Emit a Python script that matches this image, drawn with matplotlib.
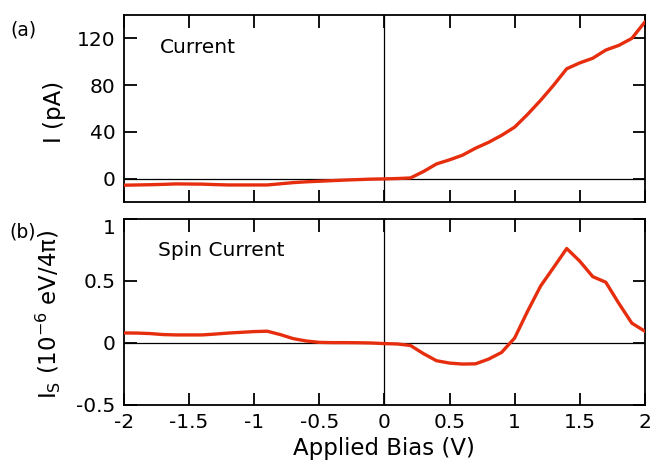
import matplotlib
matplotlib.use("Agg")
import matplotlib.pyplot as plt
import numpy as np

# bias grid (V)
bias = np.round(np.arange(-2.0, 2.01, 0.1), 2)

# charge current I (pA)
current = [-5.7, -5.5, -5.3, -5.0, -4.6, -4.7, -4.8, -5.2, -5.5, -5.5,
           -5.5, -5.5, -4.5, -3.5, -2.8, -2.3, -1.8, -1.3, -0.9, -0.5,
           -0.3, 0.0, 0.5, 6.0, 12.5, 16.0, 20.0, 26.0, 31.0, 37.0,
           44.0, 55.0, 67.0, 80.0, 94.0, 99.0, 103.0, 110.0, 114.0, 120.0,
           134.0]

# spin current I_S (1e-6 eV/4pi)
spin = [0.081, 0.080, 0.076, 0.068, 0.065, 0.065, 0.065, 0.072, 0.080, 0.086,
        0.092, 0.095, 0.068, 0.035, 0.016, 0.005, 0.003, 0.003, 0.002, 0.0,
        -0.005, -0.008, -0.02, -0.086, -0.143, -0.162, -0.17, -0.168, -0.13, -0.076,
        0.04, 0.257, 0.46, 0.61, 0.762, 0.66, 0.535, 0.49, 0.32, 0.16,
        0.095]

xticks = [-2, -1.5, -1, -0.5, 0, 0.5, 1, 1.5, 2]
xticklabels = ["-2", "-1.5", "-1", "-0.5", "0", "0.5", "1", "1.5", "2"]

red = "#e62e0e"

plt.rcParams["font.family"] = ["DejaVu Sans"]

fig = plt.figure(figsize=(6.56, 4.62), dpi=100)
ax1 = fig.add_axes([0.189, 0.563, 0.794, 0.4045])
ax2 = fig.add_axes([0.189, 0.1234, 0.794, 0.4026])

for ax in (ax1, ax2):
    ax.axhline(0, color="k", lw=0.9, zorder=1)
    ax.axvline(0, color="k", lw=0.9, zorder=1)
    ax.set_xlim(-2, 2)
    ax.set_xticks(xticks)
    ax.tick_params(direction="in", top=True, right=True, length=9,
                   width=1.3, labelsize=14.5, pad=6)
    for s in ax.spines.values():
        s.set_linewidth(1.3)

ax1.plot(bias, current, color=red, lw=2.4, zorder=3)
ax1.set_ylim(-20, 140)
ax1.set_yticks([0, 40, 80, 120])
ax1.set_xticklabels([])
ax1.set_ylabel("I (pA)", fontsize=16.5)
ax1.yaxis.set_label_coords(-0.112, 0.48)
ax1.text(0.069, 0.824, "Current", transform=ax1.transAxes, fontsize=14.5,
         va="center")

ax2.plot(bias, spin, color=red, lw=2.4, zorder=3)
ax2.set_ylim(-0.5, 1.0)
ax2.set_yticks([-0.5, 0, 0.5, 1])
ax2.set_yticklabels(["-0.5", "0", "0.5", "1"])
ax2.get_yticklabels()[-1].set_va("top")
ax2.set_xticklabels(xticklabels)
ax2.set_ylabel(r"I$_\mathregular{S}$ (10$^\mathregular{-6}$ eV/4π)",
               fontsize=16.5)
ax2.yaxis.set_label_coords(-0.118, 0.49)
ax2.set_xlabel("Applied Bias (V)", fontsize=16.5)
ax2.xaxis.set_label_coords(0.5, -0.17)
ax2.text(0.065, 0.833, "Spin Current", transform=ax2.transAxes,
         fontsize=14.5, va="center")

fig.text(0.035, 1 - 30 / 462, "(a)", fontsize=13.5, ha="center", va="center")
fig.text(0.035, 1 - 232 / 462, "(b)", fontsize=13.5, ha="center", va="center")

fig.savefig("out.png", dpi=100)
